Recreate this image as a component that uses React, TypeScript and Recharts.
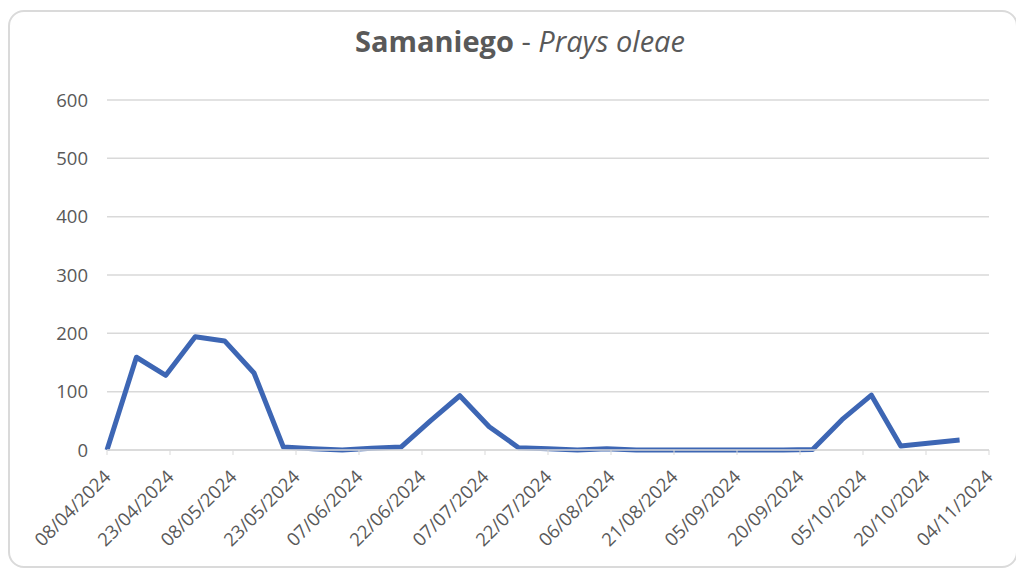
import React from 'react';
import { LineChart, Line, XAxis, YAxis, CartesianGrid } from 'recharts';

// weekly trap counts, Samaniego
const sampleDates = [
  '08/04/2024', '15/04/2024', '22/04/2024', '29/04/2024', '06/05/2024', '13/05/2024',
  '20/05/2024', '27/05/2024', '03/06/2024', '10/06/2024', '17/06/2024', '24/06/2024',
  '01/07/2024', '08/07/2024', '15/07/2024', '22/07/2024', '29/07/2024', '05/08/2024',
  '12/08/2024', '19/08/2024', '26/08/2024', '02/09/2024', '09/09/2024', '16/09/2024',
  '23/09/2024', '30/09/2024', '07/10/2024', '14/10/2024', '21/10/2024', '28/10/2024',
];
const catches = [
  0, 159, 128, 194, 187, 132,
  5, 2, 0, 3, 5, 50,
  93, 40, 4, 2, 0, 2,
  0, 0, 0, 0, 0, 0,
  1, 52, 94, 7, 12, 17,
];
const tickLabels = [
  '08/04/2024', '23/04/2024', '08/05/2024', '23/05/2024', '07/06/2024',
  '22/06/2024', '07/07/2024', '22/07/2024', '06/08/2024', '21/08/2024',
  '05/09/2024', '20/09/2024', '05/10/2024', '20/10/2024', '04/11/2024',
];
const yTicks = [0, 100, 200, 300, 400, 500, 600];

const toDay = (s: string) => {
  const [d, m, y] = s.split('/').map(Number);
  return Math.round((Date.UTC(y, m - 1, d) - Date.UTC(2024, 3, 8)) / 86400000);
};

const data = sampleDates.map((s, i) => ({ day: toDay(s), value: catches[i] }));
const xTicks = tickLabels.map(toDay);
const labelFor = (day: number) => tickLabels[xTicks.indexOf(day)] ?? '';

const FONT = '"Open Sans", sans-serif';
const TEXT = '#595959';

const DateTick = (props: any) => {
  const { x, y, payload } = props;
  const px = x + 5;
  return (
    <text
      x={px}
      y={y}
      transform={`rotate(-45, ${px}, ${y})`}
      textAnchor="end"
      fill={TEXT}
      fontSize={18.5}
      fontFamily={FONT}
    >
      {labelFor(payload.value)}
    </text>
  );
};

export default function App() {
  return (
    <div style={{ paddingTop: 2 }}>
      <div
        style={{
          position: 'relative',
          width: 1010,
          height: 558,
          border: '2px solid #dadada',
          borderRadius: 16,
          boxSizing: 'border-box',
          background: '#fff',
        }}
      >
        <div
          style={{
            position: 'absolute',
            left: 7,
            top: 14,
            width: 1006,
            textAlign: 'center',
            fontFamily: FONT,
            fontSize: 29,
            lineHeight: 1,
            color: TEXT,
            whiteSpace: 'nowrap',
          }}
        >
          <span style={{ fontWeight: 700 }}>Samaniego</span>
          <span> - </span>
          <span style={{ fontStyle: 'italic' }}>Prays oleae</span>
        </div>
        <div style={{ position: 'absolute', left: 0, top: 0 }}>
          <LineChart
            width={1006}
            height={554}
            data={data}
            margin={{ top: 88, right: 27, bottom: 26, left: 0 }}
          >
            <CartesianGrid vertical={false} stroke="#d9d9d9" strokeWidth={1.5} />
            <XAxis
              type="number"
              dataKey="day"
              domain={[0, 210]}
              ticks={xTicks}
              interval={0}
              height={90}
              axisLine={{ stroke: '#d9d9d9', strokeWidth: 1.5 }}
              tickLine={{ stroke: '#d9d9d9' }}
              tickSize={5}
              tickMargin={23}
              tick={<DateTick />}
            />
            <YAxis
              domain={[0, 600]}
              ticks={yTicks}
              width={97}
              axisLine={false}
              tickLine={false}
              tickSize={6}
              tickMargin={13}
              tick={{ fill: TEXT, fontSize: 18.5, fontFamily: FONT }}
            />
            <Line
              type="linear"
              dataKey="value"
              stroke="#3d66b4"
              strokeWidth={5}
              strokeLinejoin="round"
              dot={false}
              activeDot={false}
              isAnimationActive={false}
            />
          </LineChart>
        </div>
      </div>
    </div>
  );
}
